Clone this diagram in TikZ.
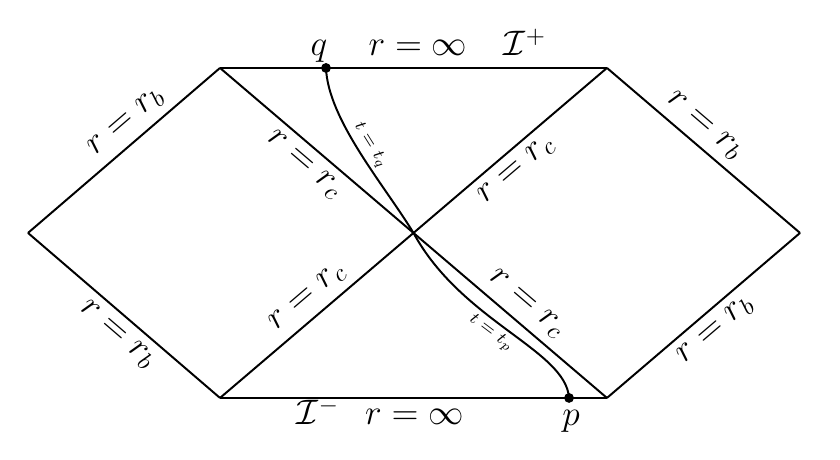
\documentclass[tikz,border=0pt]{standalone}
\usepackage{amsmath}
\usepackage{amssymb}

\begin{document}
\begin{tikzpicture}[line width=0.8pt, font=\fontsize{14.5}{17}\selectfont,
    small/.style={sloped, font=\fontsize{7}{8}\selectfont, inner sep=1.5pt}]
    \useasboundingbox (0,0) rectangle (12,6.571);
    \coordinate (L)  at (0.400,3.243);
    \coordinate (TL) at (3.143,5.600);
    \coordinate (TR) at (8.671,5.600);
    \coordinate (R)  at (11.429,3.243);
    \coordinate (BR) at (8.671,0.886);
    \coordinate (BL) at (3.143,0.886);
    \coordinate (C)  at (5.907,3.243);
    \coordinate (q)  at (4.657,5.600);
    \coordinate (p)  at (8.129,0.886);
    \path
        (L)
            edge [sloped, above] node[pos=0.58] {$r = r_b$} (TL)
            edge [sloped, below] node[pos=0.53] {$r = r_b$} (BL)
        (TL)
            edge (TR)
            edge [sloped, below] node[pos=0.5] {$r = r_c$} (C)
        (C)
            edge [sloped, below] node[pos=0.47] {$r = r_c$} (TR)
            edge [sloped, above] node[pos=0.52] {$r = r_c$} (BR)
        (BL)
            edge (BR)
            edge [sloped, above] node[pos=0.52] {$r = r_c$} (C)
        (TR)
            edge [sloped, above] node[pos=0.44] {$r = r_b$} (R)
        (BR)
            edge [sloped, below] node {$r = r_b$} (R)
        ;
    % worldline from p to q
    \draw (q) .. controls (4.686,4.857) and (5.500,3.914) .. node[small, above, pos=0.5] {$t = t_q$} (C)
              .. controls (6.600,1.971) and (8.086,1.571) .. node[small, below, pos=0.45] {$t = t_p$} (p);
    \fill (q) circle (2pt);
    \fill (p) circle (2pt);
    \node[anchor=base] (qlbl)      at (4.557,5.771) {$q$};
    \node[anchor=base] (topinf)    at (5.971,5.771) {$r = \infty$};
    \node[anchor=base] (scriplus)  at (7.500,5.771) {$\mathcal{I}^+$};
    \node[anchor=base] (scriminus) at (4.543,0.500) {$\mathcal{I}^-$};
    \node[anchor=base] (botinf)    at (5.921,0.500) {$r = \infty$};
    \node[anchor=base] (plbl)      at (8.157,0.486) {$p$};
\end{tikzpicture}
\end{document}
